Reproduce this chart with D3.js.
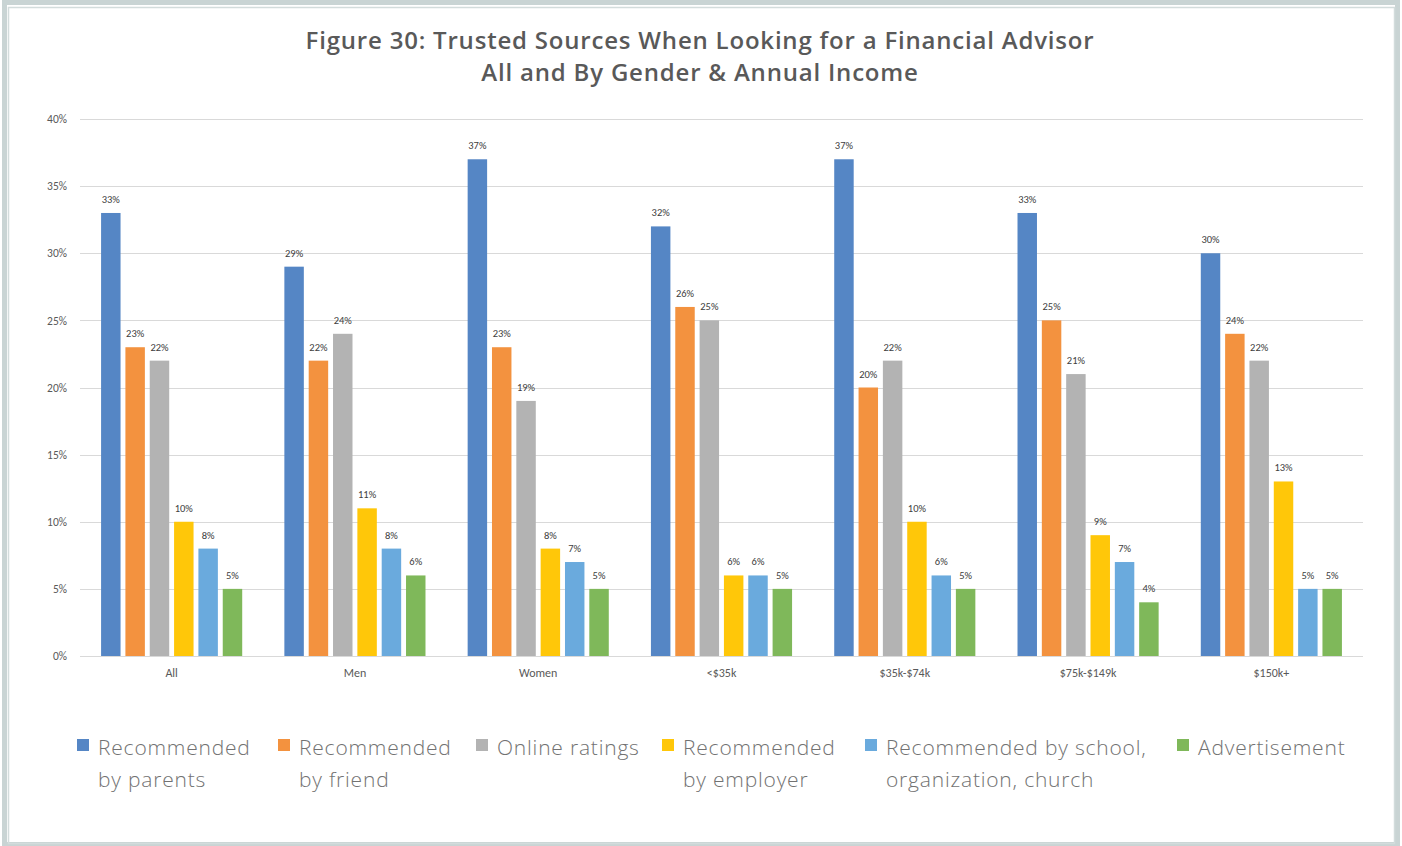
<!DOCTYPE html>
<html><head><meta charset="utf-8">
<script src="https://cdn.jsdelivr.net/npm/d3@7"></script>
<style>html,body{margin:0;padding:0;background:#fff;}svg{display:block;}</style>
</head><body>
<script>
const categories = ["All","Men","Women","<$35k","$35k-$74k","$75k-$149k","$150k+"];
const seriesNames = ["Recommended by parents","Recommended by friend","Online ratings","Recommended by employer","Recommended by school, organization, church","Advertisement"];
const parents  = [33,29,37,32,37,33,30];
const friend   = [23,22,23,26,20,25,24];
const online   = [22,24,19,25,22,21,22];
const employer = [10,11,8,6,10,9,13];
const school   = [8,8,7,6,6,7,5];
const advert   = [5,6,5,5,5,4,5];
const yTicks = [0,5,10,15,20,25,30,35,40];
const colors = ["#5586c5","#f3923f","#b3b3b3","#ffc709","#6aaadd","#7fb85a"];
const legendLines = [["Recommended","by parents"],["Recommended","by friend"],["Online ratings"],["Recommended","by employer"],["Recommended by school,","organization, church"],["Advertisement"]];
const legendX = [77,278,476,662,865,1177];

const series = [parents,friend,online,employer,school,advert];
const W=1402,H=846;
const svg=d3.select("body").append("svg").attr("width",W).attr("height",H);

// frame
svg.append("rect").attr("x",4.5).attr("y",2.5).attr("width",W-9).attr("height",H-4).attr("fill","none").attr("stroke","#c9d4d4").attr("stroke-width",5);
svg.append("rect").attr("x",8.5).attr("y",7.5).attr("width",1386).attr("height",836).attr("fill","none").attr("stroke","#d3dcdc").attr("stroke-width",1.5);

// title
const title=svg.append("text").attr("x",700).attr("text-anchor","middle").attr("fill","#595959")
  .style("font-family","'Open Sans',sans-serif").style("font-weight",600).style("font-size","24px").style("letter-spacing","0.8px");
title.append("tspan").attr("x",700).attr("y",49).text("Figure 30: Trusted Sources When Looking for a Financial Advisor");
title.append("tspan").attr("x",700).attr("y",81).text("All and By Gender & Annual Income");

const x0=d3.scaleBand().domain(categories).range([80,1363]).paddingInner(0.23).paddingOuter(0.115);
const x1=d3.scaleBand().domain(d3.range(6)).range([0,x0.bandwidth()]).paddingInner(0.2).paddingOuter(0);
const y=d3.scaleLinear().domain([0,40]).range([656,119]);

// grid
svg.append("g").selectAll("line").data(yTicks).join("line")
  .attr("x1",80).attr("x2",1363).attr("y1",d=>Math.round(y(d))+0.5).attr("y2",d=>Math.round(y(d))+0.5)
  .attr("stroke","#d9d9d9").attr("stroke-width",1);

// y axis labels
const yAxis=d3.axisLeft(y).tickValues(yTicks).tickFormat(d=>d+"%").tickSize(0).tickPadding(13);
const ya=svg.append("g").attr("transform","translate(80,0)").call(yAxis);
ya.select(".domain").remove();
ya.selectAll("text").attr("fill","#595959").style("font-family","Calibri,'Carlito','Liberation Sans',sans-serif").style("font-size","11.5px");

// x axis labels
const xAxis=d3.axisBottom(x0).tickSize(0).tickPadding(12);
const xa=svg.append("g").attr("transform","translate(0,656)").call(xAxis);
xa.select(".domain").remove();
xa.selectAll("text").attr("fill","#595959").style("font-family","Calibri,'Carlito','Liberation Sans',sans-serif").style("font-size","12px");

// bars
const groups=svg.append("g").selectAll("g").data(categories).join("g").attr("transform",c=>`translate(${x0(c)},0)`);
groups.each(function(c,ci){
  const g=d3.select(this);
  const vals=series.map((s,si)=>({si,v:s[ci]}));
  g.selectAll("rect").data(vals).join("rect")
    .attr("x",d=>x1(d.si)).attr("width",x1.bandwidth())
    .attr("y",d=>y(d.v)).attr("height",d=>y(0)-y(d.v))
    .attr("fill",d=>colors[d.si]);
  g.selectAll("text").data(vals).join("text")
    .attr("x",d=>x1(d.si)+x1.bandwidth()/2).attr("y",d=>y(d.v)-10)
    .attr("text-anchor","middle").attr("fill","#404040")
    .style("font-family","Calibri,'Carlito','Liberation Sans',sans-serif").style("font-size","10.5px")
    .text(d=>d.v+"%");
});

// legend
const lg=svg.append("g").selectAll("g").data(legendLines).join("g").attr("transform",(d,i)=>`translate(${legendX[i]},0)`);
lg.append("rect").attr("x",0).attr("y",739).attr("width",12).attr("height",12).attr("fill",(d,i)=>colors[i]);
lg.append("text").attr("fill","#727272").style("font-family","'Open Sans',sans-serif").style("font-weight",300).style("font-size","21px").style("letter-spacing","0.8px")
  .selectAll("tspan").data(d=>d).join("tspan").attr("x",21).attr("y",(d,i)=>755+i*32).text(d=>d);
</script>
</body></html>
